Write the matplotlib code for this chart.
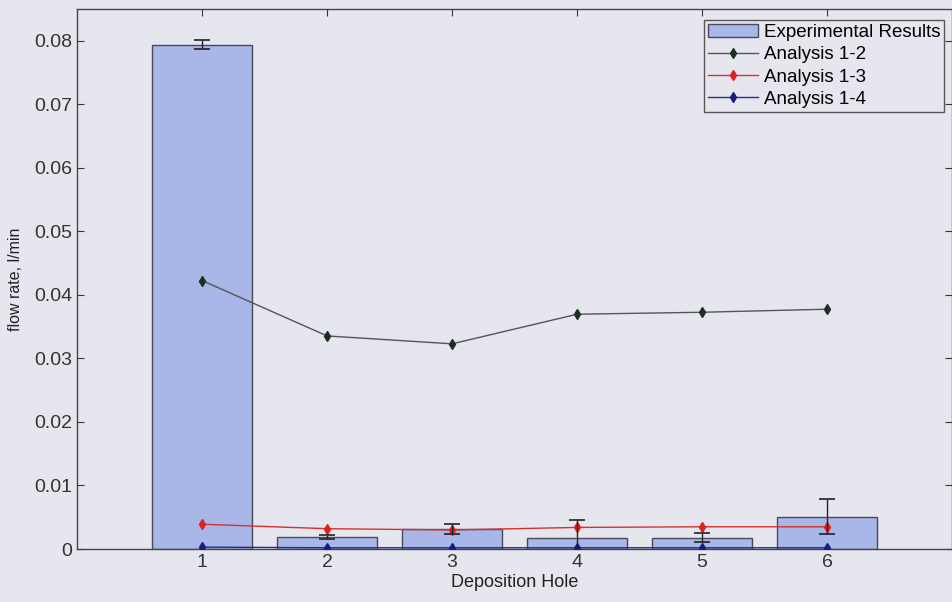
import matplotlib.pyplot as plt
import numpy as np

# ---------------------------------------------------------------------------- #
# DATA

holes = [1, 2, 3, 4, 5, 6]
experimental = [0.0794, 0.0019, 0.0031, 0.0017, 0.0018, 0.0051]
experimental_err = [0.0007, 0.0003, 0.0008, 0.0029, 0.0007, 0.0027]
analysis_12 = [0.04225, 0.03354, 0.0323, 0.03696, 0.03727, 0.03775]
analysis_13 = [0.0039, 0.0032, 0.0030, 0.0034, 0.0035, 0.0035]
analysis_14 = [0.0003, 0.0002, 0.0002, 0.0002, 0.0002, 0.0002]
y_ticks = [0, 0.01, 0.02, 0.03, 0.04, 0.05, 0.06, 0.07, 0.08]
y_tick_labels = ['0', '0.01', '0.02', '0.03', '0.04', '0.05', '0.06', '0.07', '0.08']

# ---------------------------------------------------------------------------- #
# FIGURE

plt.rcParams['font.family'] = ['Liberation Sans', 'DejaVu Sans']
bg = '#e6e6ee'

fig = plt.figure(figsize=(9.53, 6.02), dpi=100, facecolor=bg)
ax = fig.add_axes([0.081, 0.088, 0.918, 0.897], facecolor=bg)

# Bars
bars = ax.bar(holes, experimental, width=0.8, color='#a9b6e8', edgecolor='#4a4a5a',
              linewidth=1.0, label='Experimental Results', zorder=2)

# Analysis lines
l12, = ax.plot(holes, analysis_12, '-d', color='#555555', markerfacecolor='#1e2e22',
               markeredgecolor='#1e2e22', markersize=5.5, linewidth=1.0,
               label='Analysis 1-2', zorder=3)
l13, = ax.plot(holes, analysis_13, '-d', color='#d83030', markerfacecolor='#e02020',
               markeredgecolor='#e02020', markersize=5.5, linewidth=1.0,
               label='Analysis 1-3', zorder=3)
l14, = ax.plot(holes, analysis_14, '-d', color='#2a2a90', markerfacecolor='#1a1a80',
               markeredgecolor='#1a1a80', markersize=5.5, linewidth=1.0,
               label='Analysis 1-4', zorder=3)

# Error bars on the experimental results
ax.errorbar(holes, experimental, yerr=experimental_err, fmt='none',
            ecolor='#222222', elinewidth=1.0, capsize=6, capthick=1.2, zorder=4)

# Axes
ax.set_xlim(0, 7)
ax.set_ylim(0, 0.085)
ax.set_xticks(holes)
ax.set_yticks(y_ticks)
ax.set_yticklabels(y_tick_labels)
ax.tick_params(direction='in', top=True, right=True, labelsize=14,
               length=5, width=0.8, colors='#333333')
for s in ax.spines.values():
    s.set_color('#444444')
    s.set_linewidth(1.0)

ax.set_xlabel('Deposition Hole', fontsize=13, labelpad=2, color='#222222')
ax.set_ylabel('flow rate, l/min', fontsize=11.5, labelpad=8, color='#222222')

# Legend
leg = ax.legend([bars, l12, l13, l14],
                ['Experimental Results', 'Analysis 1-2', 'Analysis 1-3', 'Analysis 1-4'],
                loc='upper right', bbox_to_anchor=(0.991, 0.979), fontsize=13.5,
                frameon=True, fancybox=False, borderpad=0.2, labelspacing=0.27,
                handlelength=2.7, handletextpad=0.3, borderaxespad=0.0)
leg.get_frame().set_edgecolor('#333333')
leg.get_frame().set_facecolor(bg)
leg.get_frame().set_linewidth(1.0)

fig.savefig('out.png', dpi=100, facecolor=bg)
